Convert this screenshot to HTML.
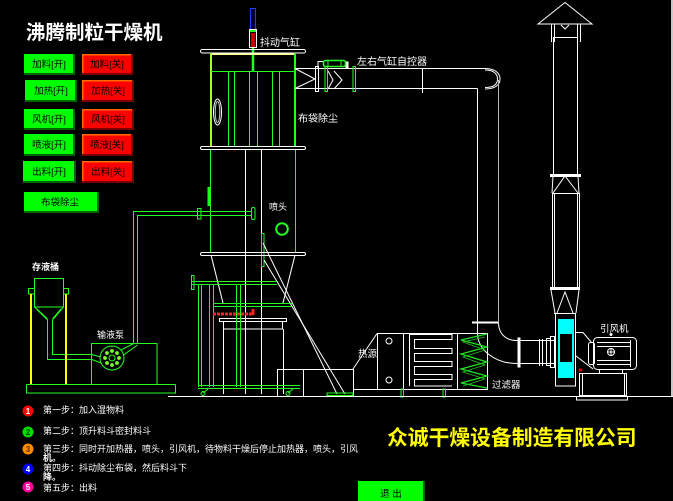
<!DOCTYPE html>
<html><head><meta charset="utf-8"><style>
html,body{margin:0;padding:0;background:#000;}
svg{display:block;}
text{font-family:"Liberation Sans","Noto Sans CJK SC",sans-serif;}
</style></head><body>
<svg width="673" height="501" viewBox="0 0 673 501" xmlns="http://www.w3.org/2000/svg">
<rect width="673" height="501" fill="#000"/>
<rect x="671" y="0" width="2" height="396" fill="#c8c8c8"/>

<!-- Title -->
<text x="26" y="39" font-size="19.5" font-weight="bold" fill="#fff">沸腾制粒干燥机</text>

<!-- Buttons -->
<g font-size="9.5" fill="#000" text-anchor="middle">
  <rect x="24" y="54" width="51" height="21" fill="#006400"/><rect x="24" y="54" width="49" height="19" fill="#00ff00"/><text x="49" y="67.5" fill="#000">加料[开]</text>
  <rect x="82" y="54" width="51" height="21" fill="#7a0000"/><rect x="82" y="54" width="49" height="19" fill="#ff6a00"/><rect x="83.5" y="55.5" width="47.5" height="17.5" fill="#ff0000"/><text x="107" y="67.5" fill="#000">加料[关]</text>

  <rect x="25" y="80" width="52" height="22" fill="#006400"/><rect x="25" y="80" width="50" height="20" fill="#00ff00"/><text x="51" y="94" fill="#000">加热[开]</text>
  <rect x="82" y="80" width="52" height="22" fill="#7a0000"/><rect x="82" y="80" width="50" height="20" fill="#ff6a00"/><rect x="83.5" y="81.5" width="48.5" height="18.5" fill="#ff0000"/><text x="108" y="94" fill="#000">加热[关]</text>

  <rect x="24" y="109" width="51" height="21" fill="#006400"/><rect x="24" y="109" width="49" height="19" fill="#00ff00"/><text x="49" y="122.5" fill="#000">风机[开]</text>
  <rect x="82" y="109" width="52" height="21" fill="#7a0000"/><rect x="82" y="109" width="50" height="19" fill="#ff6a00"/><rect x="83.5" y="110.5" width="48.5" height="17.5" fill="#ff0000"/><text x="108" y="122.5" fill="#000">风机[关]</text>

  <rect x="24" y="134" width="51" height="22" fill="#006400"/><rect x="24" y="134" width="49" height="20" fill="#00ff00"/><text x="49" y="148" fill="#000">喷液[开]</text>
  <rect x="82" y="134" width="51" height="22" fill="#7a0000"/><rect x="82" y="134" width="49" height="20" fill="#ff6a00"/><rect x="83.5" y="135.5" width="47.5" height="18.5" fill="#ff0000"/><text x="107" y="148" fill="#000">喷液[关]</text>

  <rect x="23" y="161" width="53" height="22" fill="#006400"/><rect x="23" y="161" width="51" height="20" fill="#00ff00"/><text x="49" y="175" fill="#000">出料[开]</text>
  <rect x="82" y="161" width="52" height="22" fill="#7a0000"/><rect x="82" y="161" width="50" height="20" fill="#ff6a00"/><rect x="83.5" y="162.5" width="48.5" height="18.5" fill="#ff0000"/><text x="108" y="175" fill="#000">出料[关]</text>

  <rect x="24" y="192" width="75" height="21" fill="#006400"/><rect x="24" y="192" width="73" height="19" fill="#00ff00"/><text x="60" y="205.5" fill="#000">布袋除尘</text>
</g>

<!-- ===== Tower top ===== -->
<rect x="250.5" y="8.5" width="5" height="21" fill="#000030" stroke="#1f3fff"/>
<rect x="249.5" y="29.5" width="7" height="18" fill="none" stroke="#fff"/>
<rect x="251" y="33" width="4" height="14" fill="#c80000"/>
<rect x="250" y="30" width="6" height="2" fill="#20ff20"/>
<line x1="253" y1="48" x2="253" y2="71" stroke="#20ff20" stroke-width="2.5"/>
<text x="260" y="46" font-size="10" fill="#fff">抖动气缸</text>

<rect x="211" y="53" width="84" height="2" fill="#ffff90"/>
<rect x="200.5" y="49.5" width="105" height="3.5" rx="1.75" fill="none" stroke="#fff"/>
<line x1="211" y1="53" x2="211" y2="147" stroke="#a8ff30" stroke-width="2"/>
<line x1="295" y1="53" x2="295" y2="147" stroke="#20ff20" stroke-width="2"/>
<g stroke="#20ff20" stroke-width="1">
  <line x1="211" y1="71.5" x2="295" y2="71.5"/>
  <line x1="228.5" y1="71.5" x2="228.5" y2="146"/>
  <line x1="234.5" y1="71.5" x2="234.5" y2="146"/>
  <line x1="249.5" y1="71.5" x2="249.5" y2="146"/>
  <line x1="257.5" y1="71.5" x2="257.5" y2="146"/>
  <line x1="272.5" y1="71.5" x2="272.5" y2="146"/>
  <line x1="279.5" y1="71.5" x2="279.5" y2="146"/>
</g>
<ellipse cx="217.5" cy="112" rx="4" ry="13" fill="none" stroke="#fff"/>
<ellipse cx="217.5" cy="112" rx="2.3" ry="10.5" fill="none" stroke="#ccc"/>
<rect x="200.5" y="146.5" width="105" height="3" rx="1.5" fill="none" stroke="#fff"/>
<text x="298" y="122" font-size="10" fill="#fff">布袋除尘</text>

<!-- ===== Top duct ===== -->
<g stroke="#fff" fill="none">
  <line x1="295" y1="68.5" x2="486" y2="68.5"/>
  <line x1="295" y1="88.5" x2="477.5" y2="88.5"/>
  <polyline points="295,68.5 315,79 295,88.5"/>
  <rect x="315.5" y="66.5" width="3" height="25"/>
  <polyline points="328,71 333,80 328,89"/>
  <polyline points="334,71 342,80 334,89"/>
  <line x1="422.5" y1="68.5" x2="422.5" y2="93"/>
  <path d="M485,68.5 C496,68.5 500,74 500,79 C500,85 495,89 485,89"/>
  <path d="M485,70 C494,70 497.5,74 497.5,79 C497.5,84 494,87.5 485,87.5"/>
  <polyline points="318,68 318,61.5 323,61.5"/>
  <rect x="346" y="62" width="2" height="6" fill="#fff"/>
</g>
<rect x="325" y="66.5" width="2.5" height="25" fill="none" stroke="#20ff20"/>
<rect x="353" y="66.5" width="2.5" height="25" fill="none" stroke="#20ff20"/>
<rect x="323.5" y="60.5" width="22" height="6" rx="2" fill="none" stroke="#20ff20" stroke-width="1.5"/>
<line x1="328" y1="59.5" x2="328" y2="67" stroke="#20ff20"/>
<line x1="341" y1="59.5" x2="341" y2="67" stroke="#20ff20"/>
<text x="357" y="65" font-size="10" fill="#fff">左右气缸自控器</text>

<!-- vertical duct -->
<line x1="477.5" y1="88.5" x2="477.5" y2="334" stroke="#fff"/>
<line x1="498.5" y1="80" x2="498.5" y2="323" stroke="#b8b8b8"/>
<rect x="472" y="321.5" width="26" height="2" fill="#fff"/>
<path d="M477.5,333 C477.5,350 495,363.5 517,363.5" fill="none" stroke="#fff"/>
<path d="M498.5,323 C498.5,333 505,340.5 517,340.5" fill="none" stroke="#fff"/>
<g stroke="#fff" fill="none">
  <line x1="517" y1="340.5" x2="554" y2="340.5"/>
  <line x1="517" y1="363.5" x2="554" y2="363.5"/>
  <rect x="518" y="338" width="2" height="29" fill="#fff"/>
  <line x1="539.5" y1="339" x2="539.5" y2="366"/>
  <line x1="542.5" y1="339" x2="542.5" y2="366"/>
  <rect x="546.5" y="338.5" width="4" height="27"/>
  <rect x="550.5" y="336.5" width="4" height="31"/>
</g>

<!-- ===== Chimney ===== -->
<g stroke="#fff" fill="none">
  <polygon points="538,24 565,2.5 592,24"/>
  <line x1="551.5" y1="24" x2="551.5" y2="42"/>
  <line x1="554.5" y1="24" x2="554.5" y2="42"/>
  <line x1="577.5" y1="24" x2="577.5" y2="42"/>
  <line x1="580.5" y1="24" x2="580.5" y2="42"/>
  <line x1="554" y1="37.5" x2="578" y2="37.5"/>
  <polyline points="561,25 565,29 569,25"/>
  <line x1="553.5" y1="37" x2="553.5" y2="175"/>
  <line x1="577.5" y1="37" x2="577.5" y2="175"/>
  <line x1="553" y1="176" x2="552" y2="193"/>
  <line x1="578" y1="176" x2="579" y2="193"/>
  <polyline points="553,193 565,176 578,193"/>
  <line x1="552" y1="193.5" x2="580" y2="193.5"/>
  <line x1="552.5" y1="193" x2="552.5" y2="288"/>
  <line x1="554.5" y1="193" x2="554.5" y2="288"/>
  <line x1="577.5" y1="193" x2="577.5" y2="288"/>
  <line x1="579.5" y1="193" x2="579.5" y2="288"/>
  <line x1="551" y1="290" x2="555" y2="313"/>
  <line x1="579" y1="290" x2="576" y2="313"/>
  <polyline points="557,313 565,292 573,313"/>
  <line x1="554" y1="313.5" x2="576" y2="313.5"/>
  <rect x="555.5" y="313.5" width="20" height="72.5"/>
</g>
<rect x="550" y="174" width="31" height="3" fill="#fff"/>
<rect x="550" y="287" width="30" height="3" fill="#fff"/>
<rect x="558" y="319" width="16" height="59" fill="#00ffff"/>
<rect x="559.5" y="333.5" width="13" height="29" fill="#000" stroke="#00ffff"/>

<!-- fan motor -->
<g stroke="#fff" fill="none">
  <polyline points="576,332.5 583,332.5 592,343"/>
  <line x1="576" y1="356" x2="593" y2="369"/>
  <rect x="593.5" y="337.5" width="43" height="32" rx="4"/>
  <rect x="588.5" y="342.5" width="6" height="22" rx="2"/>
  <line x1="597" y1="342.5" x2="630" y2="342.5"/>
  <line x1="597" y1="346.5" x2="630" y2="346.5"/>
  <line x1="597" y1="360.5" x2="630" y2="360.5"/>
  <line x1="597" y1="364.5" x2="630" y2="364.5"/>
  <line x1="630.5" y1="340" x2="630.5" y2="367"/>
  <circle cx="611" cy="352" r="3.5"/>
  <line x1="607" y1="352" x2="615" y2="352"/>
  <line x1="611" y1="348" x2="611" y2="356"/>
  <line x1="599.5" y1="369" x2="599.5" y2="374"/>
  <line x1="622.5" y1="369" x2="622.5" y2="374"/>
  <rect x="579.5" y="373.5" width="47" height="22"/>
  <line x1="582.5" y1="374" x2="582.5" y2="396"/>
  <line x1="624.5" y1="374" x2="624.5" y2="396"/>
  <rect x="576.5" y="396.5" width="51" height="3.5"/>
</g>
<circle cx="611" cy="334.5" r="1.5" fill="#fff"/>
<circle cx="580.5" cy="370" r="1.8" fill="#d00000"/>
<text x="600" y="332" font-size="9.5" fill="#fff">引风机</text>

<!-- ===== Heater / filter ===== -->
<g stroke="#fff" fill="none">
  <line x1="377" y1="333.5" x2="488" y2="333.5"/>
  <line x1="377.5" y1="333" x2="377.5" y2="389"/>
  <line x1="403.5" y1="333" x2="403.5" y2="389"/>
  <line x1="457.5" y1="333" x2="457.5" y2="389"/>
  <line x1="487.5" y1="333" x2="487.5" y2="389"/>
  <line x1="353" y1="389.5" x2="488" y2="389.5"/>
  <line x1="377" y1="333.5" x2="353" y2="369"/>
  <line x1="353.5" y1="369" x2="353.5" y2="397"/>
  <circle cx="389" cy="341" r="3"/>
  <circle cx="389" cy="380" r="3"/>
  <polyline points="409.5,386 409.5,334.5 452,334.5 452,339.5 414.5,339.5 414.5,348.5 452,348.5 452,353.5 414.5,353.5 414.5,361.5 452,361.5 452,366.5 414.5,366.5 414.5,374.5 452,374.5 452,379.5 414.5,379.5 414.5,386 452,386"/>
  <rect x="277.5" y="369.5" width="76" height="27"/>
  <line x1="303.5" y1="369.5" x2="303.5" y2="397"/>
</g>
<polyline points="487,334 461,340 487,347 461,354 487,362 461,369 487,376 461,383 487,388" fill="none" stroke="#20e020" stroke-width="1.3"/>
<polyline points="485,337 463,342 485,350 463,357 485,365 463,372 485,379 463,386" fill="none" stroke="#20c020" stroke-width="0.8"/>
<rect x="401" y="389" width="2.5" height="8" fill="none" stroke="#20ff20"/>
<rect x="443" y="389" width="2.5" height="8" fill="none" stroke="#20ff20"/>
<text x="358" y="357" font-size="9.5" fill="#fff">热源</text>
<text x="492" y="388" font-size="9.5" fill="#fff">过滤器</text>

<!-- floor -->
<line x1="168" y1="396.5" x2="673" y2="396.5" stroke="#fff"/>

<!-- ===== Lower tower ===== -->
<line x1="210.5" y1="150" x2="210.5" y2="253" stroke="#20ff20"/>
<line x1="295.5" y1="150" x2="295.5" y2="253" stroke="#20ff20"/>
<line x1="245.5" y1="150" x2="245.5" y2="394" stroke="#fff"/>
<line x1="261.5" y1="150" x2="261.5" y2="394" stroke="#fff"/>
<rect x="207.5" y="187" width="3" height="19" fill="#20ff20"/>
<rect x="261.5" y="233.5" width="2.5" height="33" fill="none" stroke="#20ff20"/>
<text x="269" y="210" font-size="9" fill="#fff">喷头</text>
<circle cx="282" cy="229" r="5.8" fill="none" stroke="#20ff20" stroke-width="2"/>
<rect x="200.5" y="252.5" width="105" height="3" rx="1.5" fill="none" stroke="#fff"/>
<g stroke="#fff" fill="none">
  <line x1="211" y1="255" x2="223" y2="303"/>
  <line x1="295" y1="255" x2="283" y2="303"/>
  <line x1="263" y1="243" x2="337" y2="394"/>
  <line x1="264" y1="260" x2="345" y2="394"/>
  <rect x="219.5" y="318.5" width="67" height="3"/>
  <rect x="223.5" y="321.5" width="59" height="7.5"/>
  <line x1="223.5" y1="329" x2="223.5" y2="394"/>
  <line x1="283.5" y1="329" x2="283.5" y2="394"/>
</g>
<g stroke="#20ff20" fill="none">
  <line x1="192" y1="281.5" x2="277" y2="281.5"/>
  <line x1="192" y1="284.5" x2="277" y2="284.5"/>
  <rect x="191.5" y="275.5" width="2.5" height="14"/>
  <line x1="198.5" y1="284" x2="198.5" y2="387"/>
  <line x1="201.5" y1="284" x2="201.5" y2="387"/>
  <line x1="209.5" y1="284" x2="209.5" y2="387"/>
  <line x1="213.5" y1="284" x2="213.5" y2="387"/>
  <line x1="236.5" y1="284" x2="236.5" y2="387"/>
  <line x1="240.5" y1="284" x2="240.5" y2="387"/>
  <line x1="213" y1="303.5" x2="292" y2="303.5"/>
  <line x1="213" y1="306.5" x2="292" y2="306.5"/>
  <line x1="198" y1="385.5" x2="300" y2="385.5"/>
  <line x1="198" y1="388.5" x2="300" y2="388.5"/>
  <circle cx="203" cy="393.5" r="2"/>
  <line x1="203" y1="393" x2="208" y2="389"/>
  <circle cx="288" cy="393.5" r="2"/>
  <line x1="288" y1="393" x2="293" y2="389"/>
</g>
<rect x="327" y="393" width="26" height="2.5" fill="none" stroke="#20ff20"/>
<line x1="213" y1="314" x2="252" y2="314" stroke="#ff2020" stroke-width="3" stroke-dasharray="3,1"/>
<line x1="253" y1="309" x2="253" y2="315" stroke="#ff2020" stroke-width="3"/>

<!-- ===== Left: tank, pump, pipe ===== -->
<g stroke="#20ff20" fill="none">
  <polyline points="133.5,343 133.5,211.5 251,211.5"/>
  <polyline points="137.5,343 137.5,215.5 251,215.5"/>
  <rect x="197.5" y="208.5" width="3.5" height="10.5"/>
  <rect x="251.5" y="207.5" width="3.5" height="12" rx="1.5"/>
  <rect x="34.5" y="278.5" width="29" height="28.5"/>
  <rect x="28.5" y="288.5" width="6" height="5.5"/>
  <rect x="63.5" y="288.5" width="5" height="5.5"/>
  <polyline points="34.5,307 47.5,320 47.5,359.5 92,359.5"/>
  <polyline points="63.5,307 52.5,320 52.5,354.5 92,354.5"/>
  <line x1="37" y1="309" x2="47.5" y2="319"/>
  <line x1="61" y1="309" x2="52.5" y2="319"/>
  <rect x="26.5" y="384.5" width="149" height="8.5"/>
  <rect x="91.5" y="343.5" width="65.5" height="41"/>
  <circle cx="112" cy="358" r="12"/>
  <circle cx="112" cy="358" r="3"/>
  <line x1="121" y1="350" x2="133.5" y2="343.5"/>
  <line x1="123.5" y1="355" x2="137.5" y2="345"/>
  <line x1="92" y1="354.5" x2="100.5" y2="357"/>
  <line x1="92" y1="359.5" x2="101" y2="363"/>
</g>
<g fill="#80ff30">
  <circle cx="119" cy="358" r="1.9"/><circle cx="105" cy="358" r="1.9"/>
  <circle cx="112" cy="351" r="1.9"/><circle cx="112" cy="365" r="1.9"/>
  <circle cx="117" cy="353" r="1.9"/><circle cx="107" cy="353" r="1.9"/>
  <circle cx="117" cy="363" r="1.9"/><circle cx="107" cy="363" r="1.9"/>
</g>
<line x1="31" y1="294" x2="31" y2="384" stroke="#ffff00" stroke-width="2"/>
<line x1="66" y1="294" x2="66" y2="384" stroke="#ffff00" stroke-width="2"/>
<text x="32" y="270" font-size="9" font-weight="bold" fill="#fff">存液桶</text>
<text x="97" y="338" font-size="9" fill="#fff">输液泵</text>

<!-- ===== Legend ===== -->
<g font-size="8" font-weight="bold" text-anchor="middle">
  <circle cx="28" cy="411" r="5.5" fill="#ff0000"/><text x="28" y="414" fill="#fff">1</text>
  <circle cx="28" cy="432" r="5.5" fill="#00e000"/><text x="28" y="435" fill="#004000">2</text>
  <circle cx="28" cy="449" r="5.5" fill="#ff8c00"/><text x="28" y="452" fill="#603000">3</text>
  <circle cx="28" cy="469" r="5.5" fill="#0000ff"/><text x="28" y="472" fill="#fff">4</text>
  <circle cx="28" cy="487" r="5.5" fill="#ff00a0"/><text x="28" y="490" fill="#fff">5</text>
</g>
<g font-size="9" fill="#fff">
  <text x="43" y="413">第一步：加入湿物料</text>
  <text x="43" y="434">第二步：顶升料斗密封料斗</text>
  <text x="43" y="452">第三步：同时开加热器，喷头，引风机，待物料干燥后停止加热器，喷头，引风</text>
  <text x="43" y="461" font-weight="bold">机。</text>
  <text x="43" y="471">第四步：抖动除尘布袋，然后料斗下</text>
  <text x="43" y="480" font-weight="bold">降。</text>
  <text x="43" y="491">第五步：出料</text>
</g>

<!-- Company -->
<text x="387" y="445" font-size="20.8" font-weight="bold" fill="#ffff00">众诚干燥设备制造有限公司</text>

<!-- Exit button -->
<rect x="358" y="481" width="67" height="20" fill="#006400"/>
<rect x="358" y="481" width="65" height="20" fill="#00ff00"/>
<text x="391" y="497" font-size="9.5" fill="#000" text-anchor="middle">退 出</text>
</svg>
</body></html>
